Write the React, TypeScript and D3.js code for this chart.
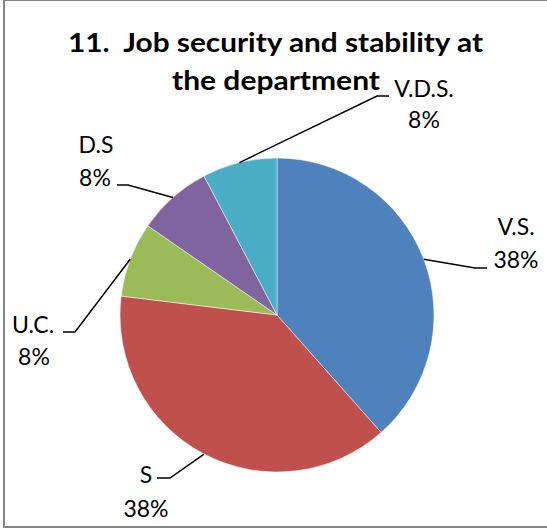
import React from "react";
import * as d3 from "d3";

const categories = ["V.S.", "S", "U.C.", "D.S", "V.D.S."];
const values = [5, 5, 1, 1, 1];
const colors = ["#4F81BD", "#C0504D", "#9BBB59", "#8064A2", "#4BACC6"];
const titleLines = ["11.  Job security and stability at", "the department"];

// label layout (elbow point, end point, line centers and baselines)
const labelLayout = [
  { elbow: [475, 268], end: [487, 268], x1: 516, x2: 516, y1: 235, y2: 268 },
  { elbow: [170, 478], end: [157, 478], x1: 146, x2: 146, y1: 483, y2: 517 },
  { elbow: [75, 332], end: [63, 332], x1: 33, x2: 34, y1: 333, y2: 365 },
  { elbow: [128, 185], end: [117, 185], x1: 96, x2: 95, y1: 153, y2: 186 },
  { elbow: [377, 96], end: [389, 96], x1: 424, x2: 424, y1: 97, y2: 128 },
];

const W = 547;
const H = 529;
const cx = 277;
const cy = 315;
const R = 157;
const FONT = "Lato, 'Open Sans', sans-serif";

export default function App() {
  const total = d3.sum(values);
  const pie = d3
    .pie<number>()
    .sort(null)
    .startAngle(0)
    .endAngle(2 * Math.PI)
    .value((d) => d);
  const arcs = pie(values);
  const arc = d3.arc<d3.PieArcDatum<number>>().innerRadius(0).outerRadius(R);

  return (
    <svg
      width={W}
      height={H}
      style={{ position: "absolute", left: 0, top: 0, background: "#fff" }}
    >
      <rect x={0} y={0} width={W} height={H} fill="#fff" />
      <rect x={4} y={0} width={W + 10} height={527} fill="none" stroke="#868686" strokeWidth={2} />
      <g fontFamily={FONT} fontWeight="bold" fontSize={27} fill="#000" textAnchor="middle">
        <text x={275.5} y={52} textLength={415} lengthAdjust="spacingAndGlyphs" style={{ whiteSpace: "pre" }}>
          {titleLines[0]}
        </text>
        <text x={276} y={89.5} textLength={208} lengthAdjust="spacingAndGlyphs">
          {titleLines[1]}
        </text>
      </g>
      <g transform={`translate(${cx},${cy})`}>
        {arcs.map((a, i) => (
          <path key={i} d={arc(a) || ""} fill={colors[i]} stroke="#fff" strokeWidth={0.5} />
        ))}
      </g>
      {arcs.map((a, i) => {
        const mid = (a.startAngle + a.endAngle) / 2;
        const px = cx + R * Math.sin(mid);
        const py = cy - R * Math.cos(mid);
        const L = labelLayout[i];
        const pct = Math.round((values[i] / total) * 100) + "%";
        return (
          <g key={"l" + i}>
            <polyline
              points={`${px},${py} ${L.elbow[0]},${L.elbow[1]} ${L.end[0]},${L.end[1]}`}
              fill="none"
              stroke="#000"
              strokeWidth={1.5}
            />
            <g fontFamily={FONT} fontSize={23} fill="#000" textAnchor="middle">
              <text x={L.x1} y={L.y1}>{categories[i]}</text>
              <text x={L.x2} y={L.y2}>{pct}</text>
            </g>
          </g>
        );
      })}
    </svg>
  );
}
